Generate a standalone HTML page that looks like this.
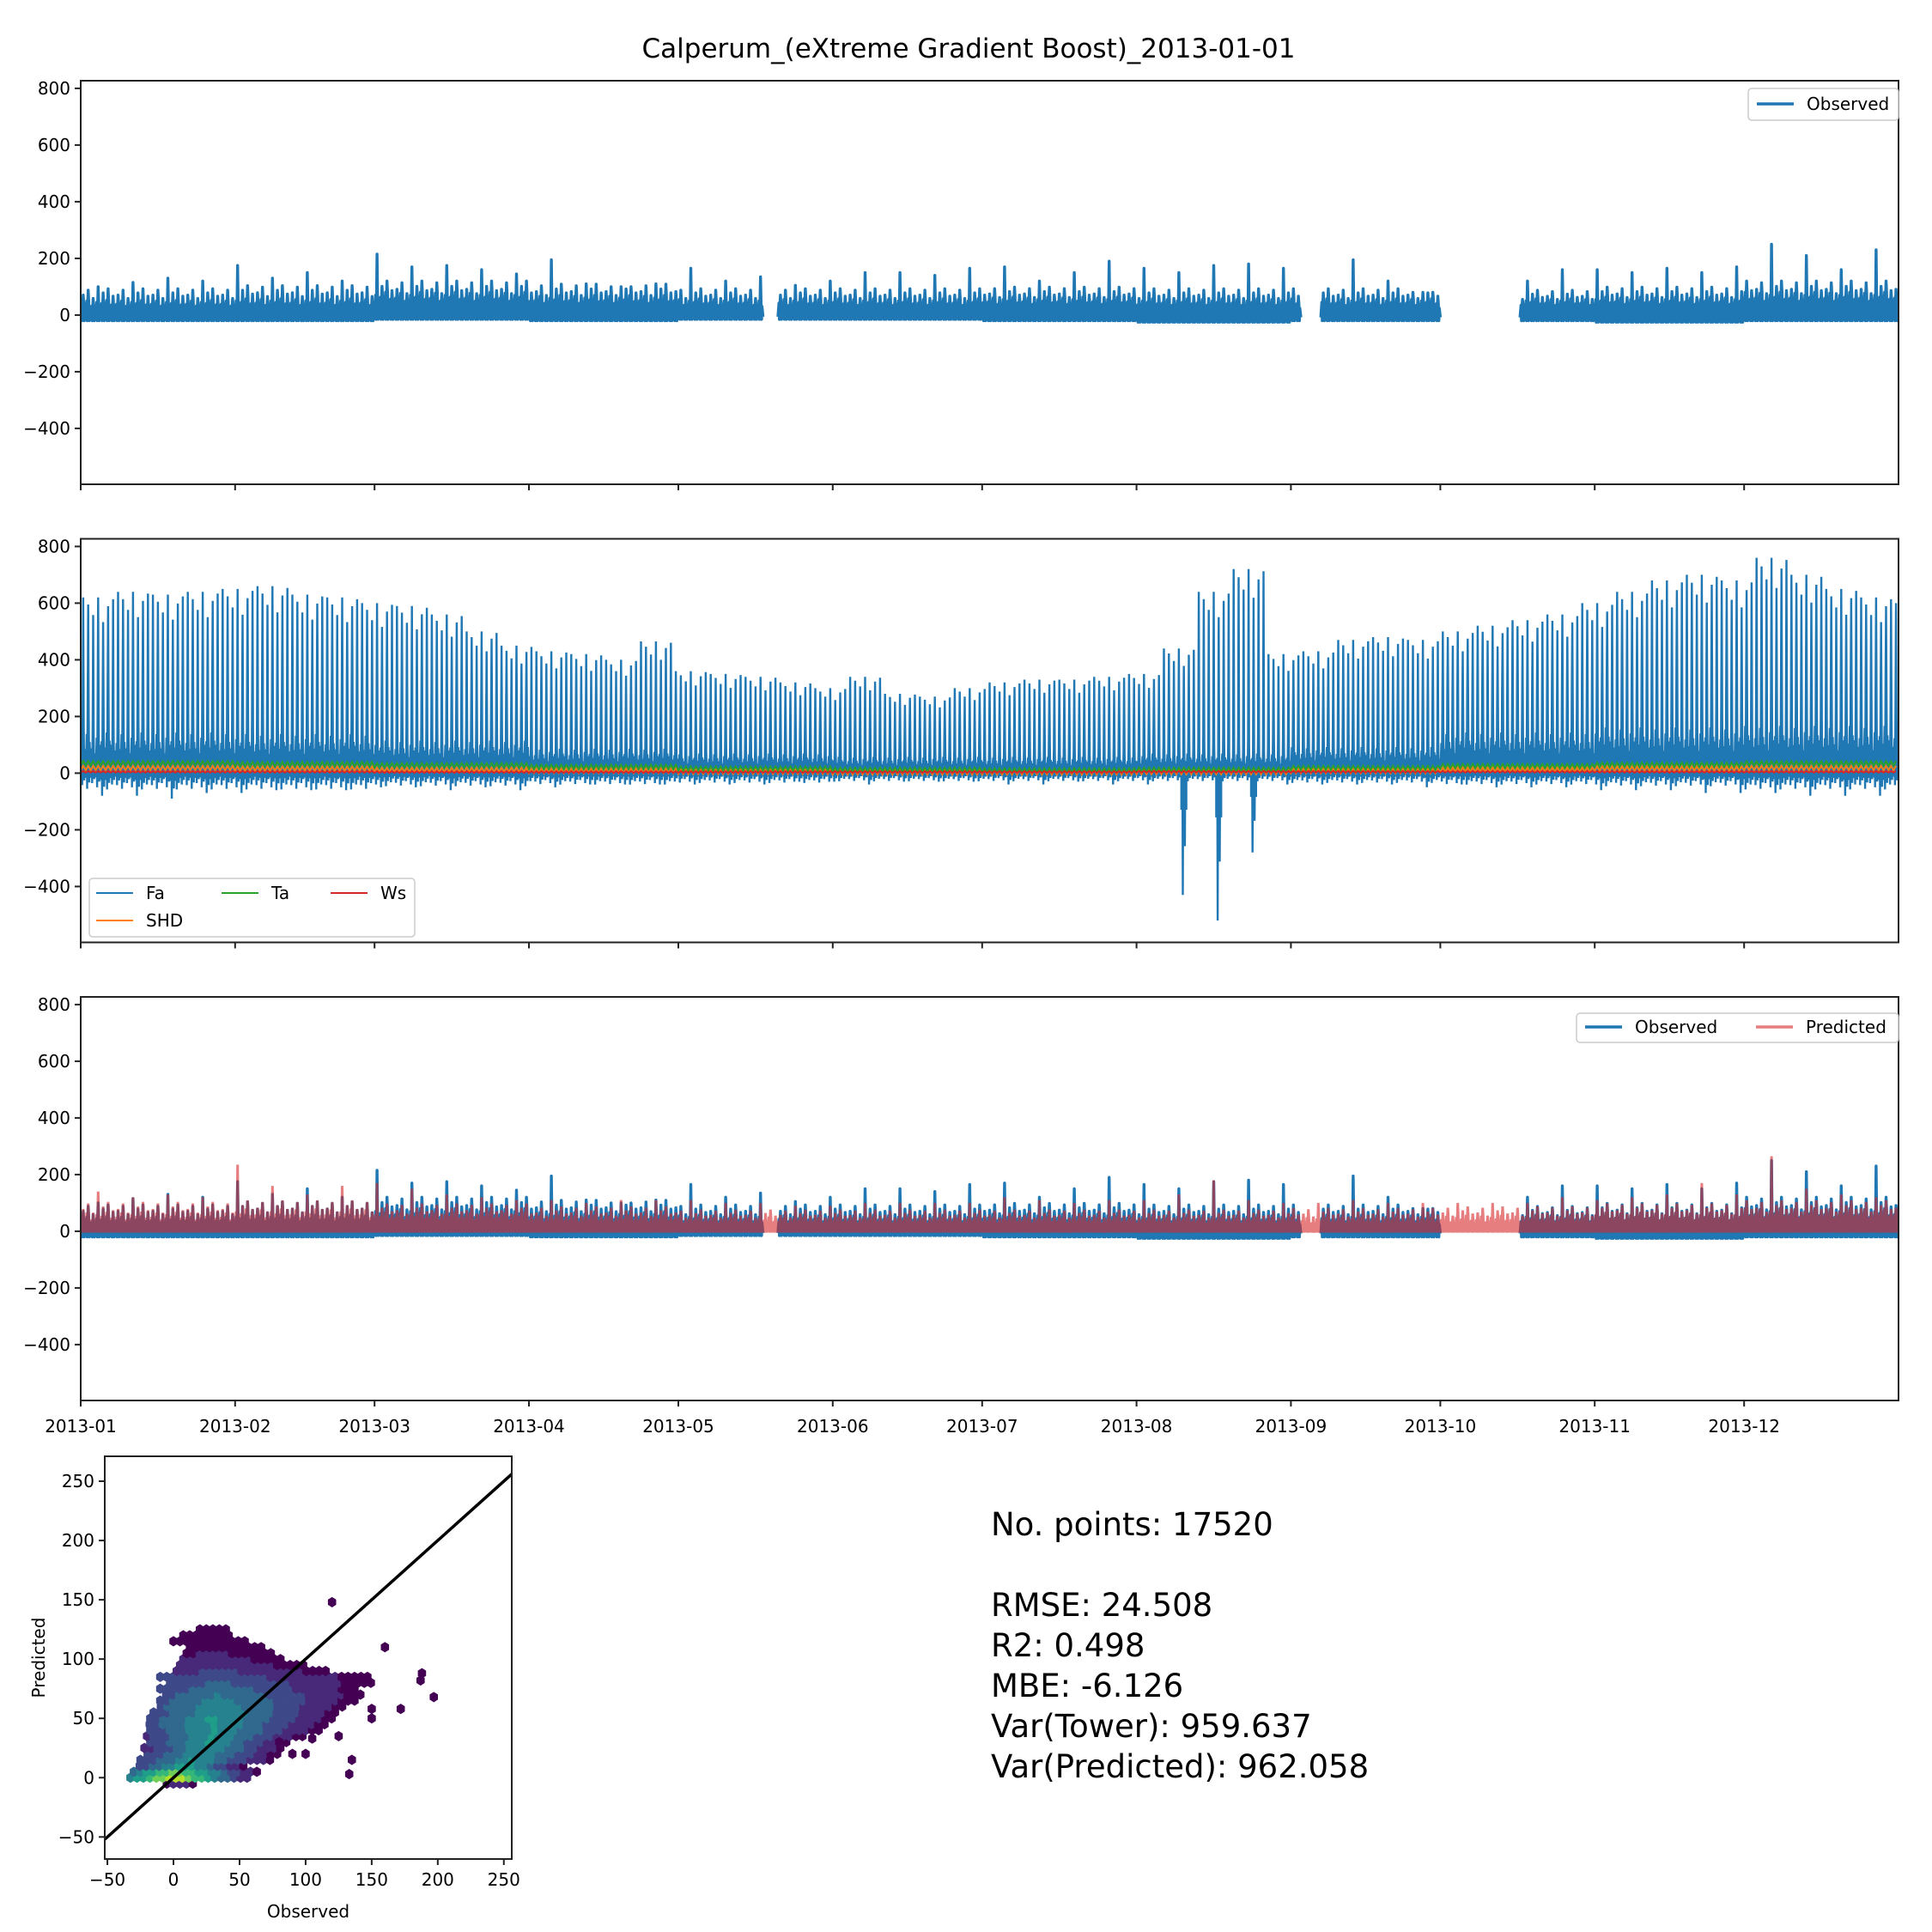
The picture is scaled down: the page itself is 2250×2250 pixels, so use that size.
<!DOCTYPE html>
<html><head><meta charset="utf-8">
<style>
html,body{margin:0;padding:0;background:#fff;}
svg{display:block;font-family:"DejaVu Sans","Liberation Sans",sans-serif;}
</style></head>
<body>
<svg id="fig" xmlns="http://www.w3.org/2000/svg" width="2250" height="2250" viewBox="0 0 2250 2250">
<rect x="0" y="0" width="2250" height="2250" fill="#fff"/>
<text x="1128" y="67" font-size="31" text-anchor="middle" fill="#000">Calperum_(eXtreme Gradient Boost)_2013-01-01</text>
<g font-size="37" fill="#000">
<text x="1154" y="1788">No. points: 17520</text>
<text x="1154" y="1882">RMSE: 24.508</text>
<text x="1154" y="1929">R2: 0.498</text>
<text x="1154" y="1976">MBE: -6.126</text>
<text x="1154" y="2023">Var(Tower): 959.637</text>
<text x="1154" y="2070">Var(Predicted): 962.058</text>
</g>
</svg>
<script>
// ---------- data ----------
const monthLabels = ["2013-01","2013-02","2013-03","2013-04","2013-05","2013-06","2013-07","2013-08","2013-09","2013-10","2013-11","2013-12"];
const monthStartDays = [0,31,59,90,120,151,181,212,243,273,304,334];
const yTicks = [-400,-200,0,200,400,600,800];
const gapStarts = [137,245,273];
const gapEnds = [140,249,289];
// weekly maxima (53 weeks)
const obsPeak = [100,115,130,120,175,130,150,120,215,170,175,160,145,195,110,100,110,165,120,135,105,120,150,150,140,165,170,120,150,190,165,150,175,180,165,200,195,120,80,null,null,120,160,160,150,165,150,170,250,210,160,230,160];
const obsTypical = [85,95,110,100,85,85,90,85,85,80,90,110];
const obsBand = [45,50,70,60,50,50,55,50,50,50,55,70];
const obsMin = [-20,-20,-15,-20,-15,-15,-20,-25,-20,-20,-25,-20];
const faPeak = [620,640,630,640,650,660,630,620,600,590,560,500,450,430,420,400,465,360,350,340,320,300,340,280,270,300,320,330,330,340,350,440,640,720,420,430,470,480,470,500,520,540,560,600,640,680,700,680,760,700,650,620,600];
const faWeekMin = [-80,-80,-90,-70,-70,-60,-60,-60,-50,-50,-60,-50,-60,-50,-40,-40,-40,-40,-40,-40,-30,-30,-40,-30,-30,-30,-40,-40,-30,-40,-40,-430,-520,-280,-40,-40,-40,-40,-50,-40,-50,-50,-50,-60,-60,-60,-70,-70,-70,-80,-80,-80,-70];
const faMinTypical = [-50,-50,-40,-35,-30,-25,-25,-25,-30,-35,-40,-50];
const faBand = [250,240,200,150,120,100,100,120,160,250,280,290];
const taLevel = [35,32,28,22,16,12,10,12,18,25,30,34];
const shdLevel = [18,16,12,8,5,3,3,4,7,12,16,18];
const wsLevel = [5,5,4,4,4,4,4,5,5,5,5,5];
const predPeak = [140,120,130,120,235,160,130,160,170,150,130,120,110,110,100,110,110,110,100,100,90,90,100,100,100,100,120,110,100,110,110,130,180,110,100,100,110,100,100,100,100,100,120,110,120,130,170,130,265,150,130,120,110];
const predTypical = [95,100,90,80,70,70,70,70,75,80,90,100];
const predBand = [60,70,60,50,45,45,45,45,45,50,60,70];
const predMin = [-5,-5,-5,-5,-5,-5,-5,-5,-5,-5,-5,-5];
// hexbin rows: [predicted, obsMin, obsMax, obsPeakPos, peakLevel]
const hexRows = [[-5,-5,15,5,0.15],[0,-35,60,0,0.95],[5,-30,65,3,0.8],[10,-28,55,8,0.6],[15,-25,75,15,0.52],[20,-22,80,20,0.5],[25,-22,85,25,0.5],[30,-20,90,25,0.52],[35,-20,100,30,0.52],[40,-20,110,30,0.52],[45,-18,115,30,0.52],[50,-20,120,30,0.52],[55,-15,125,35,0.5],[60,-12,130,35,0.48],[65,-10,140,35,0.44],[70,-8,145,35,0.4],[75,-10,140,35,0.36],[80,-5,150,35,0.3],[85,-10,150,30,0.26],[90,0,120,35,0.2],[95,5,100,30,0.16],[100,5,85,30,0.12],[105,10,75,30,0.08],[110,10,70,30,0.05],[115,0,55,25,0.03],[120,5,45,25,0.02],[125,20,40,25,0.01]];
const outlierObs = [120,160,188,187,197,150,172,150,135,133,125,105,90,100,80];
const outlierPred = [148,110,88,82,68,58,58,50,15,3,35,33,20,20,30];
const scatterXTicks = [-50,0,50,100,150,200,250];
const scatterYTicks = [-50,0,50,100,150,200,250];

// ---------- layout ----------
const NS = "http://www.w3.org/2000/svg";
const svg = document.getElementById('fig');
const AX_L = 94, AX_R = 2211, AX_H = 470;
const panelTops = [94, 627.5, 1161];
const YMAX = 827, YSCALE = 0.33;
const dayShape = [0.72,0.9,0.6,1,0.8,0.95,0.68];
const bandShape = [0.85,1.1,0.7,1,0.9,1.15,0.8];
const faShape = [1,0.96,0.9,1,0.86,0.95,0.99];
function xDay(d){ return AX_L + d*(AX_R-AX_L)/365; }
function yVal(top, v){ return top + (YMAX - v)*YSCALE; }
function mk(tag, attrs, parent){
  const e = document.createElementNS(NS, tag);
  for (const k in attrs) e.setAttribute(k, attrs[k]);
  (parent||svg).appendChild(e);
  return e;
}
function inGap(d){ for(let i=0;i<gapStarts.length;i++){ if(d>=gapStarts[i] && d<gapEnds[i]) return true; } return false; }
function monthOf(d){ let m=0; for(let i=0;i<12;i++){ if(d>=monthStartDays[i]) m=i; } return m; }

const fracs = [0,0.2,0.3,0.4,0.5,0.6,0.7,0.8,1];
function dailyPath(top, peakArr, typArr, bandArr, minArr, useGaps){
  let dstr = ""; let pen = false;
  for(let d=0; d<365; d++){
    const w = Math.floor(d/7), m = monthOf(d), k = d%7;
    if((useGaps && inGap(d)) || peakArr[w]===null){ pen=false; continue; }
    const pk = (k===3) ? peakArr[w] : Math.min(typArr[m]*dayShape[k]*1.15, peakArr[w]);
    const mn = minArr[m];
    const b = bandArr[m]*bandShape[k];
    const vals = [mn*0.4, b, mn, b*0.8, pk, b, mn, b*0.6, mn*0.4];
    for(let i=0;i<fracs.length;i++){
      dstr += (pen ? "L" : "M") + xDay(d+fracs[i]).toFixed(1) + " " + yVal(top, vals[i]).toFixed(1) + " ";
      pen = true;
    }
  }
  return dstr;
}
function faPath(top){
  let dstr = "";
  for(let d=0; d<365; d++){
    const w = Math.floor(d/7), m = monthOf(d), k = d%7;
    const pk = (k===3) ? faPeak[w] : faPeak[w]*faShape[k];
    const mn = (k===4) ? faWeekMin[w] : faMinTypical[m]*bandShape[k];
    const b = faBand[m]*bandShape[k];
    const vals = [mn*0.3, b*0.5, mn, b, pk, b*0.8, mn*0.6, b*0.4, mn*0.3];
    for(let i=0;i<fracs.length;i++){
      dstr += (d===0&&i===0 ? "M" : "L") + xDay(d+fracs[i]).toFixed(1) + " " + yVal(top, vals[i]).toFixed(1) + " ";
    }
  }
  return dstr;
}
function levelPath(top, arr, amp){
  let dstr="";
  for(let d=0; d<365; d++){
    const m = monthOf(d), v = arr[m];
    dstr += (d===0?"M":"L") + xDay(d).toFixed(1)+" "+yVal(top, v-amp).toFixed(1)+" L"+xDay(d+0.5).toFixed(1)+" "+yVal(top, v+amp).toFixed(1)+" ";
  }
  return dstr;
}

function drawAxes(idx, showLabels){
  const top = panelTops[idx];
  const g = mk('g', {});
  
  
  yTicks.forEach(v=>{
    const y = yVal(top, v);
    const t = mk('line', {x1:AX_L-7, x2:AX_L, y1:y, y2:y, stroke:'#222', 'stroke-width':2}, g);
    
    
    const l = mk('text', {x:AX_L-12, y:y+7, 'font-size':20, 'text-anchor':'end', fill:'#000'}, g);
    l.textContent = v<0 ? '\u2212'+Math.abs(v) : String(v);
    
    
  });
  monthStartDays.forEach((d,i)=>{
    const x = xDay(d);
    const t = mk('line', {x1:x, x2:x, y1:top+AX_H, y2:top+AX_H+7, stroke:'#222', 'stroke-width':2}, g);
    
    
    if(showLabels){
      const l = mk('text', {x:x, y:top+AX_H+37, 'font-size':20, 'text-anchor':'middle', fill:'#000'}, g);
      l.textContent = monthLabels[i];
      
      
    }
  });
  const fr = mk('rect', {x:AX_L, y:top, width:AX_R-AX_L, height:AX_H, fill:'none', stroke:'#222', 'stroke-width':2}, g);
  
  
}
function clipFor(idx){
  const defs = mk('defs', {});
  const cp = mk('clipPath', {id:'clip'+idx}, defs);
  mk('rect', {x:AX_L, y:panelTops[idx], width:AX_R-AX_L, height:AX_H}, cp);
  return 'url(#clip'+idx+')';
}

// Panel 1
let cl = clipFor(0);
let p = mk('path', {d:dailyPath(panelTops[0], obsPeak, obsTypical, obsBand, obsMin, true), fill:'none', stroke:'#1f77b4', 'stroke-width':3.4, 'stroke-linejoin':'round', 'clip-path':cl});


drawAxes(0, false);

// Panel 2
cl = clipFor(1);
p = mk('path', {d:faPath(panelTops[1]), fill:'none', stroke:'#1f77b4', 'stroke-width':2.4, 'clip-path':cl});


p = mk('path', {d:levelPath(panelTops[1], shdLevel, 8), fill:'none', stroke:'#ff7f0e', 'stroke-width':2, 'clip-path':cl});


p = mk('path', {d:levelPath(panelTops[1], taLevel, 8), fill:'none', stroke:'#2ca02c', 'stroke-width':2, 'clip-path':cl});


p = mk('path', {d:levelPath(panelTops[1], wsLevel, 3), fill:'none', stroke:'#d62728', 'stroke-width':2, 'clip-path':cl});


drawAxes(1, false);

// Panel 3
cl = clipFor(2);
p = mk('path', {d:dailyPath(panelTops[2], obsPeak, obsTypical, obsBand, obsMin, true), fill:'none', stroke:'#1f77b4', 'stroke-width':3.4, 'stroke-linejoin':'round', 'clip-path':cl});


p = mk('path', {d:dailyPath(panelTops[2], predPeak, predTypical, predBand, predMin, false), fill:'none', stroke:'#d62728', 'stroke-opacity':0.6, 'stroke-width':3, 'clip-path':cl});


drawAxes(2, true);

// Legends
function legendBox(x,y,w,h,name){
  const r = mk('rect', {x:x, y:y, width:w, height:h, rx:4, fill:'#fff', 'fill-opacity':0.8, stroke:'#ccc', 'stroke-width':1.5});
  
  
}
function legendEntry(x,y,color,label,width,opacity){
  const g = mk('g', {});
  
  
  mk('line', {x1:x, x2:x+43, y1:y, y2:y, stroke:color, 'stroke-width':width, 'stroke-opacity':opacity}, g);
  const t = mk('text', {x:x+58, y:y+7, 'font-size':20, fill:'#000'}, g);
  t.textContent = label;
}
legendBox(2036,103,175,37,'legend-panel-1');
legendEntry(2046,121,'#1f77b4','Observed',3.5,1);
legendBox(104,1023,379,68,'legend-panel-2');
legendEntry(112,1040,'#1f77b4','Fa',2,1);
legendEntry(258,1040,'#2ca02c','Ta',2,1);
legendEntry(385,1040,'#d62728','Ws',2,1);
legendEntry(112,1072,'#ff7f0e','SHD',2,1);
legendBox(1836,1180,375,34,'legend-panel-3');
legendEntry(1846,1196,'#1f77b4','Observed',3.5,1);
legendEntry(2045,1196,'#d62728','Predicted',3.5,0.6);

// ---------- scatter ----------
const SX0=122, SX1=596, SY0=1696, SY1=2165;
const XMIN=-52, XMAX=256, YMIN=-68.6, YMAXS=271;
function sx(v){ return SX0 + (v-XMIN)/(XMAX-XMIN)*(SX1-SX0); }
function sy(v){ return SY1 - (v-YMIN)/(YMAXS-YMIN)*(SY1-SY0); }
const viridis = ['#440154','#482878','#3e4989','#31688e','#26828e','#1f9e89','#35b779','#6ece58','#b5de2b','#fde725'];
function vcol(t){ const i = Math.max(0, Math.min(9, Math.round(t*9))); return viridis[i]; }
const defs = mk('defs', {});
const scp = mk('clipPath', {id:'sclip'}, defs);
mk('rect', {x:SX0, y:SY0, width:SX1-SX0, height:SY1-SY0}, scp);
const hexG = mk('g', {'clip-path':'url(#sclip)'});


const HW = 4.9;
function hex(cx, cy, color){
  const w = 4.4, h = 5.6;
  const pts = [[0,-h],[w,-h/2],[w,h/2],[0,h],[-w,h/2],[-w,-h/2]].map(q=>(cx+q[0]).toFixed(1)+','+(cy+q[1]).toFixed(1)).join(' ');
  const e = mk('polygon', {points:pts, fill:color, stroke:color, 'stroke-width':0.8}, hexG);
  
  
}
hexRows.forEach((r,ri)=>{
  const off = (ri%2) ? HW/2 : 0;
  const span = Math.max(r[3]-r[1], r[2]-r[3]);
  for(let xv=r[1]+off; xv<=r[2]; xv+=HW){
    const t = r[4]*Math.max(0, 1-Math.abs(xv-r[3])/span);
    hex(sx(xv), sy(r[0]), vcol(t));
  }
});
outlierObs.forEach((o,i)=>{ hex(sx(o), sy(outlierPred[i]), viridis[0]); });
const one = mk('line', {x1:sx(XMIN), y1:sy(XMIN), x2:sx(XMAX), y2:sy(XMAX), stroke:'#000', 'stroke-width':3.5, 'clip-path':'url(#sclip)'});


const sg = mk('g', {});


scatterXTicks.forEach(v=>{
  const x = sx(v);
  mk('line', {x1:x, x2:x, y1:SY1, y2:SY1+7, stroke:'#222', 'stroke-width':2}, sg);
  const t = mk('text', {x:x, y:SY1+31, 'font-size':20, 'text-anchor':'middle'}, sg);
  t.textContent = v<0 ? '\u2212'+Math.abs(v) : String(v);
  
  
});
scatterYTicks.forEach(v=>{
  const y = sy(v);
  mk('line', {x1:SX0-7, x2:SX0, y1:y, y2:y, stroke:'#222', 'stroke-width':2}, sg);
  const t = mk('text', {x:SX0-12, y:y+7, 'font-size':20, 'text-anchor':'end'}, sg);
  t.textContent = v<0 ? '\u2212'+Math.abs(v) : String(v);
  
  
});
const sfr = mk('rect', {x:SX0, y:SY0, width:SX1-SX0, height:SY1-SY0, fill:'none', stroke:'#222', 'stroke-width':2}, sg);


const xl = mk('text', {x:(SX0+SX1)/2, y:2233, 'font-size':20, 'text-anchor':'middle'});
xl.textContent = 'Observed';


const yl = mk('text', {x:52, y:(SY0+SY1)/2, 'font-size':20, 'text-anchor':'middle', transform:'rotate(-90 52 '+((SY0+SY1)/2)+')'});
yl.textContent = 'Predicted';


</script>
</body></html>
